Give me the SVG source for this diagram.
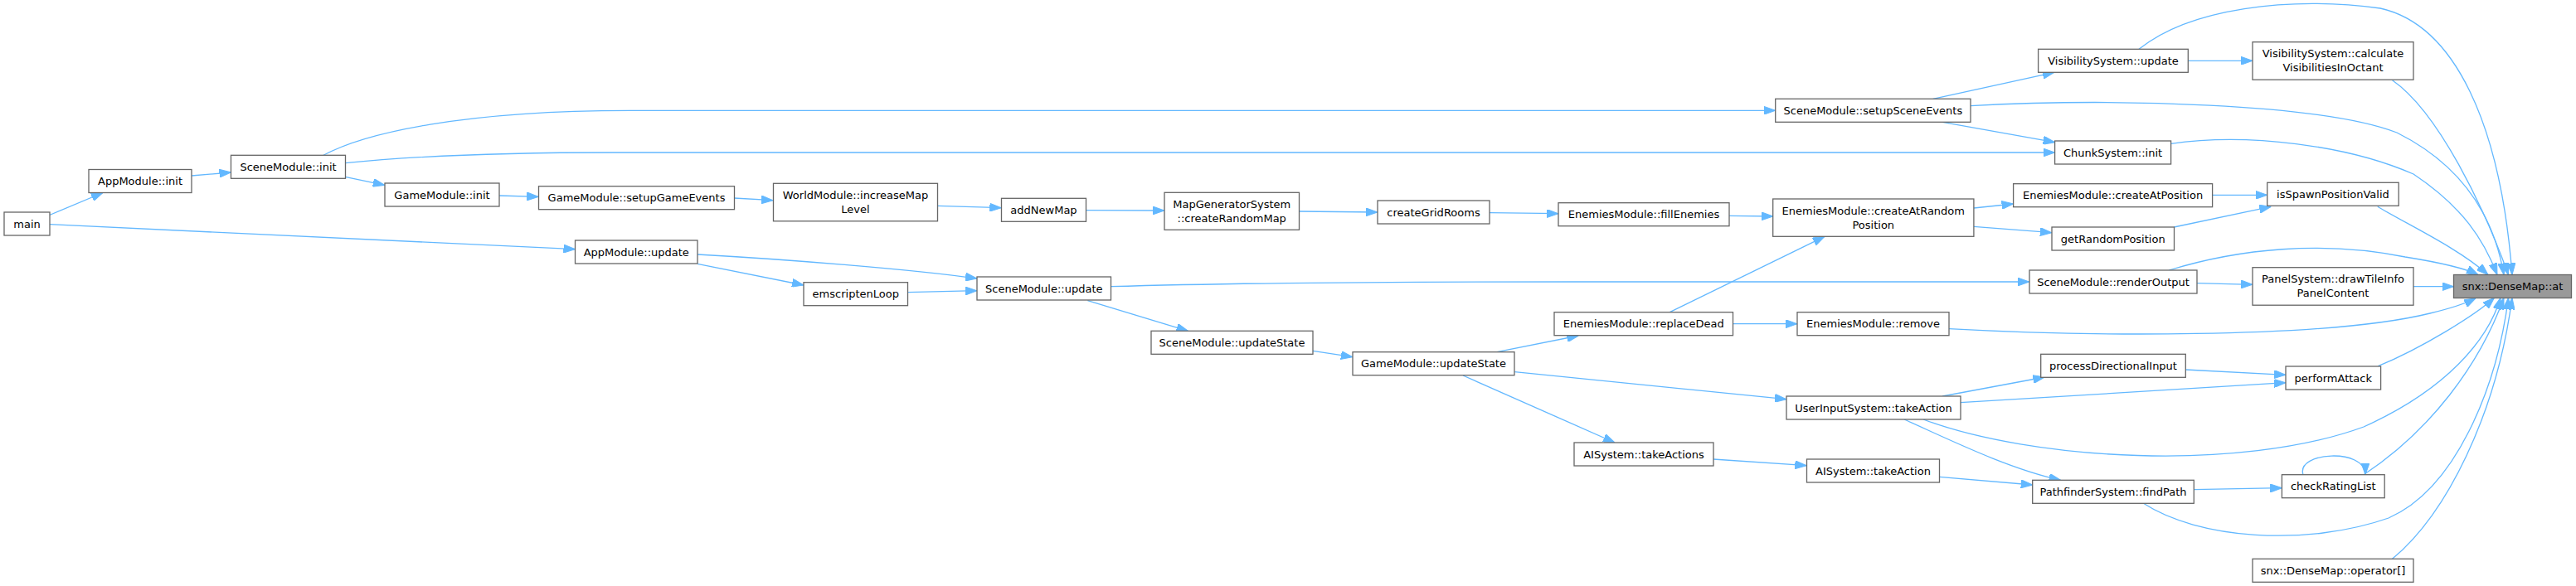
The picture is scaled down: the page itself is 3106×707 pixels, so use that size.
<svg xmlns="http://www.w3.org/2000/svg" width="3106" height="707" viewBox="0 0 3106 707">
<defs>
<style>
.n rect{fill:#ffffff;stroke:#666666;stroke-width:1.3}
.n.hl rect{fill:#999999}
.n text{font-family:"DejaVu Sans","Liberation Sans",sans-serif;font-size:13px;fill:#000000;text-anchor:middle}
#edges path{fill:none;stroke:#63b8ff;stroke-width:1.3;marker-end:url(#a)}
</style>
<marker id="a" markerWidth="14" markerHeight="10" refX="14" refY="5" orient="auto" markerUnits="userSpaceOnUse"><path d="M0,0 L14,5 L0,10 Z" fill="#63b8ff" stroke="#63b8ff" stroke-width="1"/></marker>
</defs>
<rect width="3106" height="707" fill="#ffffff"/>
<g id="edges">
<path d="M59.7,259.5 L124,232.5"/>
<path d="M60,270.7 L693.5,300.7"/>
<path d="M231,212 L278.5,208"/>
<path d="M390,187.3 C440,160 560,133.3 760,133.3 L2140.7,133.3"/>
<path d="M416.6,196.7 C500,188 600,184 740,184 L2477.6,184"/>
<path d="M416.2,213.3 L463.8,223.3"/>
<path d="M601.6,236 L649.3,237.3"/>
<path d="M885.2,239 L932,241.7"/>
<path d="M1130.2,248.3 L1207.4,250.7"/>
<path d="M1309.4,253.7 L1403.8,254"/>
<path d="M1566.5,255 L1660.8,256"/>
<path d="M1796,256.7 L1879,257.7"/>
<path d="M2084.7,260.3 L2137.7,261"/>
<path d="M2379.9,251 L2427.6,246"/>
<path d="M2379.9,273.3 L2473.8,280.7"/>
<path d="M2667.6,235.3 L2733.7,235.3"/>
<path d="M2621.4,274 L2738.3,249.3"/>
<path d="M2866.8,249.3 C2905,272 2965,300 3000,331.5"/>
<path d="M2330.7,119.3 L2476.8,87.3"/>
<path d="M2342.2,147.3 L2477.6,171.7"/>
<path d="M2638.3,73.3 L2716,73.3"/>
<path d="M841,318.3 L969,344"/>
<path d="M841,307 C950,313 1100,325 1178,336"/>
<path d="M1094.5,352.7 L1178,350.7"/>
<path d="M1339.4,345.7 C1500,341 1700,340 1900,340 L2446.8,340"/>
<path d="M1311.4,362.7 L1432.5,399.3"/>
<path d="M1583,423.3 L1630.9,430.7"/>
<path d="M1805,424.7 L1903.3,405"/>
<path d="M1826.3,448.7 L2154,481.7"/>
<path d="M1764,453 L1947,534"/>
<path d="M2013.3,376.7 L2200,285.3"/>
<path d="M2089.7,390.7 L2167,390.7"/>
<path d="M2349.9,396.7 C2500,405 2800,410 2930,378 C2955,372 2975,365 2985,360"/>
<path d="M2376,127.7 C2550,118 2800,125 2890,160 C2960,195 3005,250 3019,331.5"/>
<path d="M2579,59.3 C2640,10 2760,-5 2870,10 C2960,30 3015,150 3029,331.5"/>
<path d="M2884.5,96.7 C2940,135 2995,250 3024.5,331.5"/>
<path d="M2617.6,173.3 C2710,160 2830,175 2910,210 C2970,250 2995,290 3011,331.5"/>
<path d="M2615.3,326 C2700,300 2800,290 2900,310 C2950,318 2975,325 2988,331.5"/>
<path d="M2649,341.7 L2716,343.3"/>
<path d="M2910,345.7 L2958.5,345.7"/>
<path d="M2342.2,478 L2465.3,455"/>
<path d="M2363.8,485.7 L2756,461.7"/>
<path d="M2296,506 C2350,530 2420,565 2484.5,579.3"/>
<path d="M2319,506 C2450,555 2700,570 2850,515 C2950,470 3000,410 3015,359.3"/>
<path d="M2635.3,446 L2756,452.3"/>
<path d="M2867.5,441.7 C2920,420 2985,380 3007.5,359.3"/>
<path d="M2065.7,554 L2178.3,561.7"/>
<path d="M2338.4,575.3 L2450.7,585"/>
<path d="M2645.3,590.7 L2751.4,588.7"/>
<path d="M2584.5,607.3 C2650,650 2780,660 2880,625 C2960,590 3010,470 3024.5,359.3"/>
<path d="M2777,572.7 C2768,545 2852,540 2852,572.7"/>
<path d="M2850,572.7 C2930,520 2990,440 3019,359.3"/>
<path d="M2884.5,674.3 C2950,620 3010,500 3029,359.3"/>
</g>
<g id="n_main" class="n"><rect x="5" y="256" width="55" height="28"/><text x="32.5" y="274.5">main</text></g>
<g id="n_appinit" class="n"><rect x="107" y="204.5" width="124" height="28"/><text x="169" y="223">AppModule::init</text></g>
<g id="n_sceneinit" class="n"><rect x="278.5" y="187.3" width="138" height="28"/><text x="347.5" y="205.8">SceneModule::init</text></g>
<g id="n_gameinit" class="n"><rect x="464" y="221" width="138" height="28"/><text x="533" y="239.5">GameModule::init</text></g>
<g id="n_setupgame" class="n"><rect x="649.5" y="224.7" width="236" height="28"/><text x="767.5" y="243.2">GameModule::setupGameEvents</text></g>
<g id="n_appupdate" class="n"><rect x="693.5" y="290" width="147.5" height="28"/><text x="767.25" y="308.5">AppModule::update</text></g>
<g id="n_world" class="n"><rect x="932.5" y="221.3" width="198" height="45.5"/><text x="1031.5" y="240">WorldModule::increaseMap</text><text x="1031.5" y="257">Level</text></g>
<g id="n_emscripten" class="n"><rect x="969" y="340.7" width="125.5" height="28"/><text x="1031.75" y="359.2">emscriptenLoop</text></g>
<g id="n_addnewmap" class="n"><rect x="1207.5" y="239.3" width="102" height="28"/><text x="1258.5" y="257.8">addNewMap</text></g>
<g id="n_sceneupdate" class="n"><rect x="1178" y="334" width="161.5" height="28"/><text x="1258.75" y="352.5">SceneModule::update</text></g>
<g id="n_mapgen" class="n"><rect x="1404" y="232.3" width="162.5" height="45"/><text x="1485.25" y="250.8">MapGeneratorSystem</text><text x="1485.25" y="267.8">::createRandomMap</text></g>
<g id="n_sceneupdatestate" class="n"><rect x="1388" y="399.3" width="195" height="28"/><text x="1485.5" y="417.8">SceneModule::updateState</text></g>
<g id="n_gridrooms" class="n"><rect x="1661" y="242" width="135" height="28"/><text x="1728.5" y="260.5">createGridRooms</text></g>
<g id="n_gameupdatestate" class="n"><rect x="1631" y="424.7" width="195" height="28"/><text x="1728.5" y="443.2">GameModule::updateState</text></g>
<g id="n_fillenemies" class="n"><rect x="1879" y="244.7" width="206" height="28"/><text x="1982" y="263.2">EnemiesModule::fillEnemies</text></g>
<g id="n_replacedead" class="n"><rect x="1874" y="376.7" width="215.5" height="28"/><text x="1981.75" y="395.2">EnemiesModule::replaceDead</text></g>
<g id="n_aitakeactions" class="n"><rect x="1898" y="534" width="168" height="28"/><text x="1982" y="552.5">AISystem::takeActions</text></g>
<g id="n_setupscene" class="n"><rect x="2140.7" y="119.3" width="235.3" height="28"/><text x="2258.35" y="137.8">SceneModule::setupSceneEvents</text></g>
<g id="n_createrandom" class="n"><rect x="2137.7" y="240" width="242.2" height="45.3"/><text x="2258.8" y="258.7">EnemiesModule::createAtRandom</text><text x="2258.8" y="275.7">Position</text></g>
<g id="n_remove" class="n"><rect x="2167" y="376.7" width="183" height="28"/><text x="2258.5" y="395.2">EnemiesModule::remove</text></g>
<g id="n_userinput" class="n"><rect x="2154" y="478" width="210" height="28"/><text x="2259" y="496.5">UserInputSystem::takeAction</text></g>
<g id="n_aitakeaction" class="n"><rect x="2178.5" y="554" width="160" height="28"/><text x="2258.5" y="572.5">AISystem::takeAction</text></g>
<g id="n_visupdate" class="n"><rect x="2457.6" y="59.3" width="180.7" height="28"/><text x="2548" y="77.8">VisibilitySystem::update</text></g>
<g id="n_chunkinit" class="n"><rect x="2477.6" y="170" width="140" height="28"/><text x="2547.6" y="188.5">ChunkSystem::init</text></g>
<g id="n_createatpos" class="n"><rect x="2427.6" y="221.7" width="240" height="28"/><text x="2547.6" y="240.2">EnemiesModule::createAtPosition</text></g>
<g id="n_getrandompos" class="n"><rect x="2474" y="274" width="147.5" height="28"/><text x="2547.75" y="292.5">getRandomPosition</text></g>
<g id="n_renderoutput" class="n"><rect x="2447" y="326" width="202" height="28"/><text x="2548" y="344.5">SceneModule::renderOutput</text></g>
<g id="n_procdir" class="n"><rect x="2460.7" y="427.3" width="174.6" height="28"/><text x="2548" y="445.8">processDirectionalInput</text></g>
<g id="n_findpath" class="n"><rect x="2450.7" y="579.3" width="194.6" height="28"/><text x="2548" y="597.8">PathfinderSystem::findPath</text></g>
<g id="n_calcvis" class="n"><rect x="2716" y="50.7" width="194" height="45.5"/><text x="2813" y="69.4">VisibilitySystem::calculate</text><text x="2813" y="86.4">VisibilitiesInOctant</text></g>
<g id="n_isspawn" class="n"><rect x="2733.7" y="220.3" width="158.5" height="28"/><text x="2812.95" y="238.8">isSpawnPositionValid</text></g>
<g id="n_panel" class="n"><rect x="2716" y="322.7" width="194" height="45.5"/><text x="2813" y="341.4">PanelSystem::drawTileInfo</text><text x="2813" y="358.4">PanelContent</text></g>
<g id="n_performattack" class="n"><rect x="2756" y="442" width="114.6" height="28"/><text x="2813.3" y="460.5">performAttack</text></g>
<g id="n_checkrating" class="n"><rect x="2751.4" y="572.7" width="123.8" height="28"/><text x="2813.3" y="591.2">checkRatingList</text></g>
<g id="n_operator" class="n"><rect x="2716" y="674.3" width="194" height="28"/><text x="2813" y="692.8">snx::DenseMap::operator[]</text></g>
<g id="n_at" class="n hl"><rect x="2958.5" y="331.5" width="142" height="28"/><text x="3029.5" y="350">snx::DenseMap::at</text></g>
</svg>
